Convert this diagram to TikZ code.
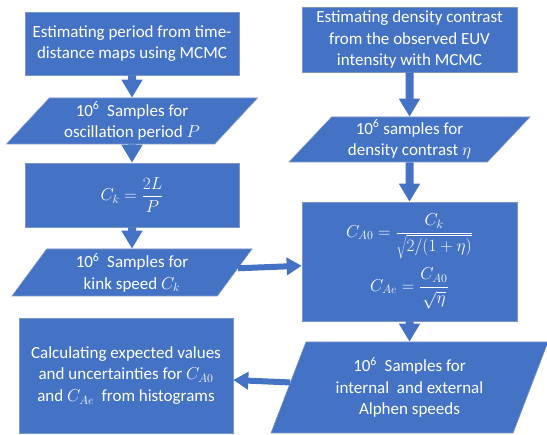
\documentclass[tikz,border=0pt]{standalone}
\usepackage{fontspec}
\setmainfont{Carlito}
\usetikzlibrary{shapes.geometric,arrows.meta}
\definecolor{boxblue}{RGB}{68,114,196}
\definecolor{edgeblue}{RGB}{125,150,200}
\begin{document}
\begin{tikzpicture}[x=1pt,y=-1pt,
  every node/.style={text=white, font=\fontsize{17}{21.5}\selectfont, align=center, inner sep=0pt},
  stepbox/.style={rectangle, fill=boxblue, draw=edgeblue, line width=0.6pt},
  iobox/.style={trapezium, trapezium stretches body, fill=boxblue, draw=edgeblue, line width=0.6pt},
  flow/.style={draw=boxblue, line width=8pt, -{Triangle[width=20pt,length=18pt]}},
  sideflow/.style={draw=boxblue, line width=6pt, -{Triangle[width=17pt,length=15pt]}}]
\useasboundingbox (0,0) rectangle (547,435);

% left column
\node[stepbox, minimum width=214pt, minimum height=63pt] (period) at (132,43.5)
  {Estimating period from time-\\distance maps using MCMC};
\node[iobox, trapezium left angle=42, trapezium right angle=138,
      minimum width=251pt, minimum height=46pt] (psamp) at (132,121)
  {10\textsuperscript{6}\ \ Samples for\\oscillation period $P$};
\node[stepbox, minimum width=214pt, minimum height=64pt] (kink) at (132,195)
  {$\displaystyle C_k=\frac{2L}{P}$};
\node[iobox, trapezium left angle=48, trapezium right angle=132,
      minimum width=240pt, minimum height=47pt] (ksamp) at (132,272.5)
  {10\textsuperscript{6}\ \ Samples for\\kink speed $C_k$};
\node[stepbox, minimum width=214pt, minimum height=115pt] (stats) at (126,375.5)
  {Calculating expected values\\and uncertainties for $C_{A0}$\\and $C_{Ae}$\ \ from histograms};

% right column
\node[stepbox, minimum width=215pt, minimum height=65pt] (density) at (409.5,39.5)
  {Estimating density contrast\\from the observed EUV\\intensity with MCMC};
\node[iobox, trapezium left angle=42.6, trapezium right angle=137.4,
      minimum width=241pt, minimum height=45pt] (esamp) at (409.5,139.5)
  {10\textsuperscript{6} samples for\\density contrast $\eta$};
\node[stepbox, minimum width=215pt, minimum height=119pt] (alfven) at (409.5,261.5)
  {$\displaystyle C_{A0}=\frac{C_k}{\sqrt{2/(1+\eta)}}$\\[8pt]
   $\displaystyle C_{Ae}=\frac{C_{A0}}{\sqrt{\eta}}$};
\node[iobox, trapezium left angle=59.8, trapezium right angle=120.2,
      minimum width=277pt, minimum height=91pt] (asamp) at (409.5,387.5)
  {10\textsuperscript{6}\ \ Samples for\\internal\ \ and external\\Alphen speeds};

% connectors
\draw[flow] (period.south) -- (psamp.north);
\draw[flow] (psamp.south) -- (kink.north);
\draw[flow] (kink.south) -- (ksamp.north);
\draw[flow] (density.south) -- (esamp.north);
\draw[flow] (esamp.south) -- (alfven.north);
\draw[flow] (alfven.south) -- (asamp.north);
\draw[sideflow] (ksamp) -- (alfven);
\draw[sideflow] (asamp) -- (stats);
\end{tikzpicture}
\end{document}
